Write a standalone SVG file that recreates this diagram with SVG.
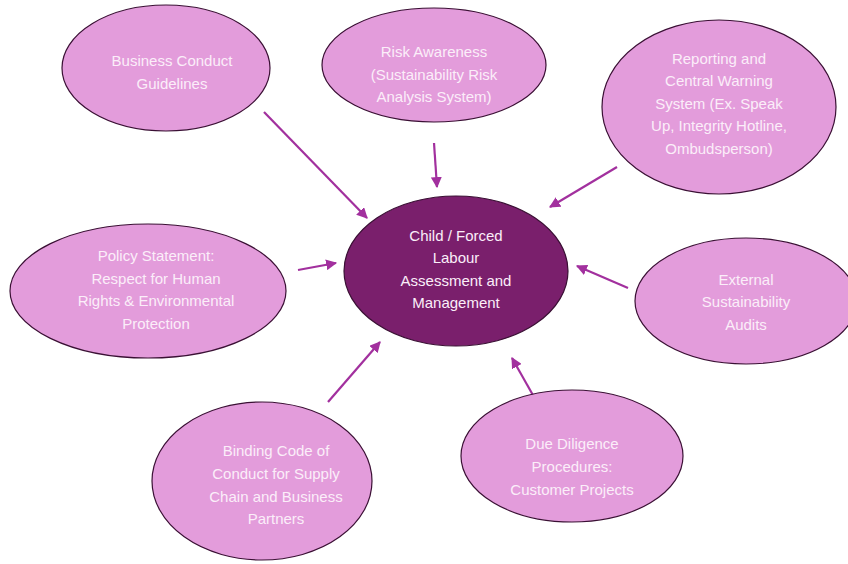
<svg xmlns="http://www.w3.org/2000/svg" width="848" height="564" viewBox="0 0 848 564">
<defs>
<style>
.n{fill:#e39cdb;stroke:#3a1034;stroke-width:1.2}
.c{fill:#7a1f6c;stroke:#3a1034;stroke-width:1.2}
text{font-family:"Liberation Sans",Arial,sans-serif;font-size:15px;fill:#fbeef9;text-anchor:middle}
.e{stroke:#a2309e;stroke-width:2.2;fill:none;marker-end:url(#ah)}
</style>
<marker id="ah" viewBox="0 0 10 10" refX="9" refY="5" markerWidth="5" markerHeight="5" orient="auto" markerUnits="strokeWidth">
<path d="M0,0 L10,5 L0,10 z" fill="#a2309e"/>
</marker>
</defs>
<rect width="848" height="564" fill="#ffffff"/>
<g id="connectors">
<line class="e" x1="264" y1="112" x2="367" y2="218"/>
<line class="e" x1="434" y1="143" x2="437" y2="187"/>
<line class="e" x1="617" y1="167" x2="550" y2="207"/>
<line class="e" x1="298" y1="270" x2="336" y2="263"/>
<line class="e" x1="328" y1="402" x2="380" y2="342"/>
<line class="e" x1="534" y1="397" x2="512" y2="358"/>
<line class="e" x1="628" y1="288" x2="577" y2="266"/>
</g>
<g id="center">
<ellipse class="c" cx="456" cy="271" rx="112" ry="75"/>
<text x="456" y="241">Child / Forced</text>
<text x="456" y="263">Labour</text>
<text x="456" y="286">Assessment and</text>
<text x="456" y="308">Management</text>
</g>
<g id="business">
<ellipse class="n" cx="166" cy="68" rx="104" ry="63"/>
<text x="172" y="66">Business Conduct</text>
<text x="172" y="89">Guidelines</text>
</g>
<g id="risk">
<ellipse class="n" cx="434" cy="65" rx="112" ry="57"/>
<text x="434" y="57">Risk Awareness</text>
<text x="434" y="80">(Sustainability Risk</text>
<text x="434" y="102">Analysis System)</text>
</g>
<g id="reporting">
<ellipse class="n" cx="719" cy="107" rx="117" ry="87"/>
<text x="719" y="64">Reporting and</text>
<text x="719" y="86">Central Warning</text>
<text x="719" y="109">System (Ex. Speak</text>
<text x="719" y="131">Up, Integrity Hotline,</text>
<text x="719" y="154">Ombudsperson)</text>
</g>
<g id="policy">
<ellipse class="n" cx="148" cy="291" rx="138" ry="67"/>
<text x="156" y="261">Policy Statement:</text>
<text x="156" y="284">Respect for Human</text>
<text x="156" y="306">Rights &amp; Environmental</text>
<text x="156" y="329">Protection</text>
</g>
<g id="external">
<ellipse class="n" cx="746" cy="301" rx="111" ry="63"/>
<text x="746" y="285">External</text>
<text x="746" y="307">Sustainability</text>
<text x="746" y="330">Audits</text>
</g>
<g id="binding">
<ellipse class="n" cx="262" cy="481" rx="110" ry="79"/>
<text x="276" y="456">Binding Code of</text>
<text x="276" y="479">Conduct for Supply</text>
<text x="276" y="502">Chain and Business</text>
<text x="276" y="524">Partners</text>
</g>
<g id="due">
<ellipse class="n" cx="572" cy="456" rx="111" ry="66"/>
<text x="572" y="449">Due Diligence</text>
<text x="572" y="472">Procedures:</text>
<text x="572" y="495">Customer Projects</text>
</g>
</svg>
